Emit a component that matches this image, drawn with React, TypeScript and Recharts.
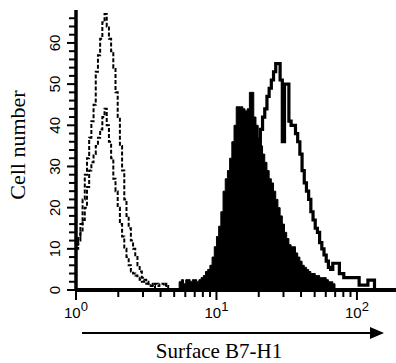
import { ComposedChart, Area, Line, XAxis, YAxis } from 'recharts';

// histogram counts per channel (64 channels per decade)
const isoOuterStart = 0;
const isoOuterCounts = [11, 13, 16, 22, 28, 32, 37, 41, 45, 53, 57, 61, 65, 67, 64, 61, 58, 54, 48, 42, 35, 29, 22, 18, 15, 12, 10, 8, 6, 4.5, 3, 2.5, 2, 1.5, 1.5, 1, 1.5, 1, 1.5, 1.5, 1, 1.5, 0];

const isoInnerStart = 0;
const isoInnerCounts = [10, 12, 14, 17, 20, 25, 29, 31, 33, 35, 37, 39, 42, 44, 40, 36, 32, 27, 24, 20, 16, 13, 10, 8, 6, 4.5, 4, 3.5, 3, 2.5, 2, 2, 1.5, 1.5, 1, 1, 0];

const controlStart = 46;
const controlCounts = [0, 2, 2.5, 1.5, 2.5, 2.5, 2, 2.5, 2.5, 2, 2.5, 3, 3.5, 4.5, 5, 6, 8, 10.5, 13, 15.5, 19, 24, 27, 29, 32, 36, 40, 44.5, 44.5, 44.5, 44, 43.5, 44, 48, 48, 42, 40, 37, 35, 33, 31, 29, 27, 26, 24, 22, 20, 18, 16, 14, 12.5, 11, 10.5, 10.5, 9, 8, 7, 6, 5.5, 5, 4.5, 4, 4, 3.5, 3.5, 3, 3, 3, 2.5, 2, 2, 1.5, 0];

const stainedStart = 56;
const stainedCounts = [1, 1.5, 2, 2, 2.5, 3, 4, 5, 6, 7, 8, 10, 12, 14, 16, 18, 20, 22, 24, 26, 28, 29, 30, 31, 32, 33, 34, 35, 39, 42, 44, 47, 49, 51, 53, 55, 55, 51, 36, 50, 50, 41, 40, 40, 38, 36, 33, 29, 26, 24, 22, 19, 17, 15, 14, 11.5, 10, 8.5, 7, 5.5, 5, 6.5, 6.5, 6.5, 4, 4, 3, 3, 3, 3, 3, 3, 3, 1.2, 1.2, 1.2, 1.2, 2.4, 2.4, 2.4, 0];

const channelsPerDecade = 64;
const decadeExponents = ['0', '1', '2'];
const yMax = 68;
const yStep = 2;

const toRows = (start: number, counts: number[]) => counts.map((n, i) => ({ ch: start + i, n }));

const isoOuter = toRows(isoOuterStart, isoOuterCounts);
const isoInner = toRows(isoInnerStart, isoInnerCounts);
const control = toRows(controlStart, controlCounts);
const stained = toRows(stainedStart, stainedCounts);

const majorTicks = decadeExponents.map((_, i) => i * channelsPerDecade);
const xTicks: number[] = [];
decadeExponents.forEach((_, d) => {
  for (let k = 1; k <= 9; k++) {
    const c = d * channelsPerDecade + channelsPerDecade * Math.log10(k);
    if (c <= 145.8) xTicks.push(c);
  }
});
const yTicks: number[] = [];
for (let v = 0; v < yMax; v += yStep) yTicks.push(v);

const sans = '"Liberation Sans", Arial, Helvetica, sans-serif';
const serif = '"Liberation Serif", "Times New Roman", Times, serif';

const XTick = (props: any) => {
  const { x, y, payload } = props;
  const idx = majorTicks.indexOf(payload.value);
  const major = idx >= 0;
  return (
    <g>
      <line x1={x} x2={x} y1={y} y2={y + (major ? 10 : 7)} stroke="#000" strokeWidth={2} />
      {major && (
        <text x={x} y={y + 28} textAnchor="middle" fontFamily={sans} fontSize={15} fill="#000">
          10<tspan dy={-7} fontSize={13}>{decadeExponents[idx]}</tspan>
        </text>
      )}
    </g>
  );
};

const YTick = (props: any) => {
  const { x, y, payload } = props;
  const v = payload.value;
  const major = v % 10 === 0;
  return (
    <g>
      <line x1={x} x2={x - (major ? 9 : 7)} y1={y} y2={y} stroke="#000" strokeWidth={2} />
      {major && (
        <text x={x - 16} y={y} transform={`rotate(-90 ${x - 16} ${y})`} textAnchor="middle" fontFamily={sans} fontSize={15} fill="#000">
          {v}
        </text>
      )}
    </g>
  );
};

const XTitle = () => (
  <g>
    <line x1={82} x2={372} y1={333} y2={333} stroke="#000" strokeWidth={2} />
    <polygon points="370,327 384,333 370,339" fill="#000" />
    <text x={219} y={358} textAnchor="middle" fontFamily={serif} fontSize={21} fill="#000">
      Surface B7-H1
    </text>
  </g>
);

const YTitle = () => (
  <text x={25} y={145} transform="rotate(-90 25 145)" textAnchor="middle" fontFamily={serif} fontSize={22} fill="#000">
    Cell number
  </text>
);

export default function App() {
  return (
    <div style={{ position: 'absolute', left: 0, top: 0, background: '#fff' }}>
      <ComposedChart width={396} height={363} margin={{ top: 10, right: 0, bottom: 0, left: 0 }}>
        <XAxis
          type="number"
          dataKey="ch"
          domain={[0, 145.8]}
          allowDataOverflow
          ticks={xTicks}
          interval={0}
          tick={<XTick />}
          tickLine={false}
          tickSize={0}
          tickMargin={0}
          height={73}
          axisLine={{ stroke: '#000', strokeWidth: 4 }}
          label={{ content: () => <XTitle /> }}
        />
        <YAxis
          type="number"
          domain={[0, yMax]}
          allowDataOverflow
          ticks={yTicks}
          interval={0}
          tick={<YTick />}
          tickLine={false}
          tickSize={0}
          tickMargin={0}
          width={76}
          axisLine={{ stroke: '#000', strokeWidth: 3.5 }}
          label={{ content: () => <YTitle /> }}
        />
        <Area
          data={control}
          dataKey="n"
          type="stepAfter"
          fill="#000"
          fillOpacity={1}
          stroke="#000"
          strokeWidth={1}
          isAnimationActive={false}
        />
        <Line data={stained} dataKey="n" type="stepAfter" stroke="#000" strokeWidth={3.2} dot={false} activeDot={false} isAnimationActive={false} />
        <Line data={isoOuter} dataKey="n" type="stepAfter" stroke="#000" strokeWidth={2} strokeDasharray="4 2" dot={false} activeDot={false} isAnimationActive={false} />
        <Line data={isoInner} dataKey="n" type="stepAfter" stroke="#000" strokeWidth={2} strokeDasharray="4 2" dot={false} activeDot={false} isAnimationActive={false} />
      </ComposedChart>
    </div>
  );
}
